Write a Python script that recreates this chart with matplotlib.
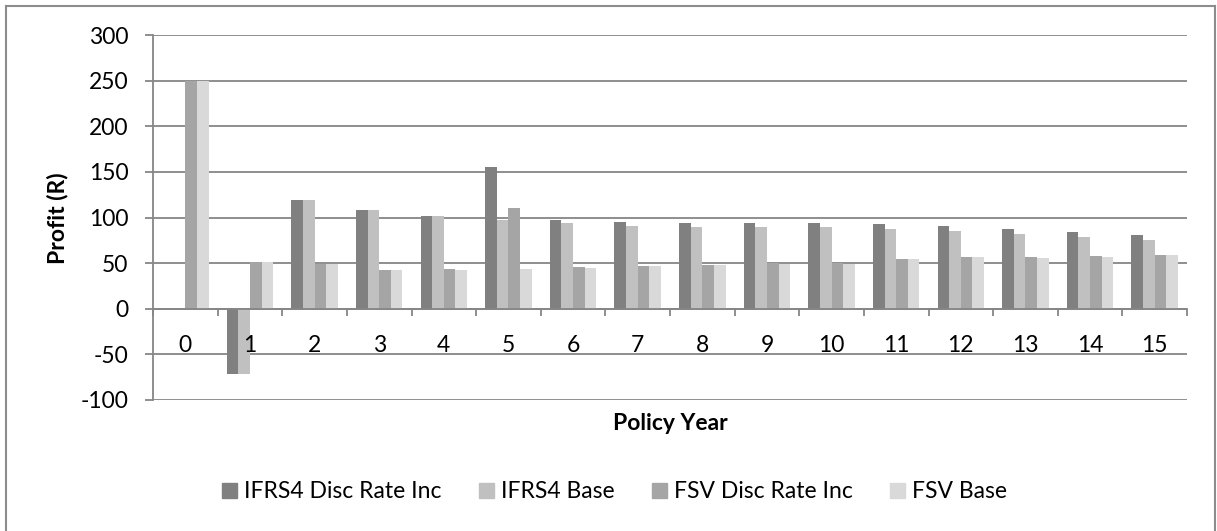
import matplotlib
matplotlib.use("Agg")
import matplotlib.pyplot as plt
import numpy as np
from matplotlib.lines import Line2D

plt.rcParams['font.family'] = ['Lato', 'DejaVu Sans']

years = list(range(16))
year_labels = [str(y) for y in years]
ifrs4_disc = [0, -72, 119, 108, 102, 155, 97, 95.5, 94, 94.4, 94.4, 93.4, 90.8, 87.9, 84.2, 80.9]
ifrs4_base = [0, -72, 119, 108, 102, 97, 93.6, 91, 89.6, 89.6, 89.3, 87.8, 85.7, 81.6, 78.3, 75]
fsv_disc = [250, 51, 49.4, 42.3, 43.2, 110, 45.4, 47, 48, 50, 50.3, 54.8, 57, 56.3, 57.4, 59.2]
fsv_base = [250, 51, 49, 42, 43, 43.9, 45, 46.6, 47.8, 49, 49.3, 54.4, 56.6, 55.5, 57, 58.8]

series_names = ["IFRS4 Disc Rate Inc", "IFRS4 Base", "FSV Disc Rate Inc", "FSV Base"]
colors = ["#808080", "#c0c0c0", "#a5a5a5", "#d9d9d9"]
y_ticks = [-100, -50, 0, 50, 100, 150, 200, 250, 300]

W, H = 1217, 531
FS = 16.5
fig = plt.figure(figsize=(W / 100, H / 100), dpi=100)
ax = fig.add_axes([153 / W, 1 - 400 / H, (1187 - 153) / W, (400 - 35) / H])

grey = "#868686"
for s in ['top', 'right']:
    ax.spines[s].set_visible(False)
ax.spines['bottom'].set_position(('data', 0))
ax.spines['bottom'].set_color(grey)
ax.spines['bottom'].set_linewidth(1.3)
ax.spines['bottom'].set_zorder(4)
ax.spines['left'].set_color(grey)
ax.spines['left'].set_linewidth(1.3)

x = np.arange(len(years))
bw = 0.18
all_series = [ifrs4_disc, ifrs4_base, fsv_disc, fsv_base]
for i, (vals, c) in enumerate(zip(all_series, colors)):
    ax.bar(x + (i - 1.5) * bw, vals, width=bw, color=c, zorder=3, linewidth=0)

ax.set_xlim(-0.5, len(years) - 0.5)
ax.set_ylim(-100, 300)
ax.set_yticks(y_ticks)
ax.set_yticklabels([str(v) for v in y_ticks])
ax.yaxis.grid(True, color=grey, linewidth=1.3, zorder=0)
ax.set_axisbelow(True)
ax.xaxis.set_zorder(5)

ax.set_xticks(x)
ax.set_xticklabels(year_labels)
ax.set_xticks(np.arange(-0.5, len(years)), minor=True)
ax.tick_params(axis='x', which='major', length=0, pad=19, labelsize=FS)
ax.tick_params(axis='x', which='minor', length=5, width=1.3, color=grey, direction='out')
ax.tick_params(axis='y', length=5.8, width=1.3, color=grey, pad=12, labelsize=FS)

fig.text(58 / W, 1 - 218 / H, "Profit (R)", fontsize=FS, fontweight='bold',
         rotation=90, ha='center', va='center')
fig.text(670 / W, 1 - 423 / H, "Policy Year", fontsize=FS, fontweight='bold',
         ha='center', va='center')

handles = [Line2D([0], [0], marker='s', linestyle='none', markersize=10.8,
                  markerfacecolor=c, markeredgecolor=c) for c in colors]
fig.legend(handles, series_names, loc='center', bbox_to_anchor=(614 / W, 1 - 492 / H),
           ncol=4, frameon=False, fontsize=FS, handletextpad=0.3, columnspacing=1.6,
           handlelength=0.7, borderaxespad=0, borderpad=0)

# chart border
border_kw = dict(color="#8c8c8c", linewidth=1.5, transform=None)
fig.add_artist(Line2D([6, 6], [0, H - 6], **border_kw))
fig.add_artist(Line2D([6, 1215], [H - 6, H - 6], **border_kw))
fig.add_artist(Line2D([1215, 1215], [0, H - 6], **border_kw))

fig.savefig("out.png", dpi=100)
